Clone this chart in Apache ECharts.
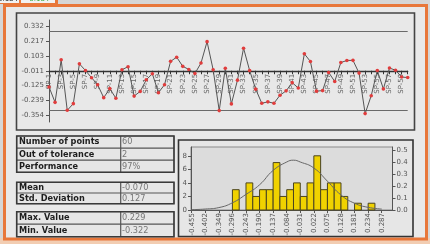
<!DOCTYPE html>
<html><head><meta charset="utf-8">
<script src="https://cdn.jsdelivr.net/npm/echarts@6/dist/echarts.min.js"></script>
<style>html,body{margin:0;padding:0;background:#d6d6d6;}#c{width:430px;height:244px;}</style>
</head><body><div id="c"></div>
<script>
// ---------- data ----------
const categories = ["SP-1","SP-2","SP-3","SP-4","SP-5","SP-6","SP-7","SP-8","SP-9","SP-10",
 "SP-11","SP-12","SP-13","SP-14","SP-15","SP-16","SP-17","SP-18","SP-19","SP-20",
 "SP-21","SP-22","SP-23","SP-24","SP-25","SP-26","SP-27","SP-28","SP-29","SP-30",
 "SP-31","SP-32","SP-33","SP-34","SP-35","SP-36","SP-37","SP-38","SP-39","SP-40",
 "SP-41","SP-42","SP-43","SP-44","SP-45","SP-46","SP-47","SP-48","SP-49","SP-50",
 "SP-51","SP-52","SP-53","SP-54","SP-55","SP-56","SP-57","SP-58","SP-59","SP-60"];
const values = [-0.135,-0.253,0.073,-0.314,-0.263,0.042,-0.009,-0.064,-0.118,-0.217,
 -0.148,-0.221,-0.003,0.020,-0.205,-0.169,-0.080,-0.034,-0.179,-0.118,
 0.061,0.093,0.023,-0.001,-0.032,0.048,0.212,-0.003,-0.316,0.008,
 -0.265,-0.083,0.162,-0.009,-0.152,-0.260,-0.249,-0.260,-0.198,-0.165,
 -0.102,-0.143,0.119,0.060,-0.167,-0.163,-0.024,-0.093,0.052,0.068,
 0.069,-0.029,-0.339,-0.202,-0.009,-0.150,0.010,-0.007,-0.059,-0.063];
const yTicks = [-0.354,-0.239,-0.125,-0.011,0.103,0.217,0.332];
const centerValue = -0.011;
const upperLimit = 0.294;
const lowerLimit = -0.312;

const statLabels1 = ["Number of points","Out of tolerance","Performance"];
const statValues1 = ["60","2","97%"];
const statLabels2 = ["Mean","Std. Deviation"];
const statValues2 = ["-0.070","0.127"];
const statLabels3 = ["Max. Value","Min. Value"];
const statValues3 = ["0.229","-0.322"];

const binStarts = [-0.296,-0.243,-0.2165,-0.190,-0.1635,-0.137,-0.1105,-0.084,-0.0575,-0.031,-0.0045,0.022,0.0485,0.075,0.1015,0.128,0.181,0.234];
const binCounts = [3,4,2,3,3,7,2,3,4,2,4,8,3,4,4,2,1,1];
const binWidth = 0.0265;
const histTicks = [-0.455,-0.402,-0.349,-0.296,-0.243,-0.190,-0.137,-0.084,-0.031,0.022,0.075,0.128,0.181,0.234,0.287];
const countTicks = [0,2,4,6,8];
const densityTicks = [0,0.1,0.2,0.3,0.4,0.5];
const curveX = [-0.455,-0.402,-0.349,-0.296,-0.243,-0.190,-0.137,-0.084,-0.058,-0.031,0.022,0.075,0.128,0.181,0.234,0.287];
const curveY = [0.003,0.008,0.020,0.060,0.130,0.210,0.330,0.400,0.415,0.400,0.350,0.240,0.125,0.056,0.022,0.008];

// ---------- chart ----------
const FONT = '"DejaVu Sans", Verdana, sans-serif';
const chart = echarts.init(document.getElementById('c'), null, {renderer:'canvas'});

function tableGraphics(labels, vals, top, rowH) {
  const els = [];
  const x0 = 16.7, x1 = 174, xd = 120.7;
  const h = rowH * labels.length;
  els.push({type:'rect', shape:{x:x0, y:top, width:x1-x0, height:h},
    style:{fill:'#e6e6e6', stroke:'#8a8a8a', lineWidth:1}, z:2});
  for (let i = 1; i < labels.length; i++) {
    els.push({type:'line', shape:{x1:x0, y1:top+i*rowH, x2:x1, y2:top+i*rowH},
      style:{stroke:'#555', lineWidth:1.2}, z:3});
  }
  els.push({type:'line', shape:{x1:xd, y1:top, x2:xd, y2:top+h}, style:{stroke:'#555', lineWidth:1.2}, z:3});
  els.push({type:'rect', shape:{x:x0, y:top, width:x1-x0, height:h},
    style:{fill:null, stroke:'#3a3a3a', lineWidth:1.6}, z:4});
  labels.forEach((t, i) => {
    els.push({type:'text', x:19, y:top+i*rowH+rowH/2+0.3, z:5,
      style:{text:t, font:'bold 8.2px ' + FONT, fill:'#1e1e1e', verticalAlign:'middle'}});
    els.push({type:'text', x:122, y:top+i*rowH+rowH/2+0.3, z:5,
      style:{text:vals[i], font:'8.2px ' + FONT, fill:'#777', verticalAlign:'middle'}});
  });
  return els;
}

const graphics = [
  {type:'rect', shape:{x:0, y:238, width:430, height:6}, style:{fill:'#f2cdb2'}, z:0},
  {type:'rect', shape:{x:4.5, y:5.5, width:422, height:233.5}, style:{fill:'#e9e9e9', stroke:'#e8773a', lineWidth:3}, z:1},
  {type:'rect', shape:{x:0, y:-2, width:58, height:6}, style:{fill:'#e8773a'}, z:6},
  {type:'rect', shape:{x:0, y:-3, width:19, height:6}, style:{fill:'#f2f2f2'}, z:7},
  {type:'text', x:18, y:-0.5, z:8, style:{text:'0.184', font:'7px ' + FONT, fill:'#222', align:'right', verticalAlign:'middle'}},
  {type:'rect', shape:{x:21, y:-3, width:34, height:6}, style:{fill:'#f2f2f2'}, z:7},
  {type:'text', x:38, y:-0.5, z:8, style:{text:'-0.184', font:'7px ' + FONT, fill:'#3aaa3a', align:'center', verticalAlign:'middle'}},
  {type:'rect', shape:{x:16.5, y:13, width:398, height:117}, style:{fill:'#e8e8e8', stroke:'#444', lineWidth:1.6}, z:2},
  {type:'rect', shape:{x:178.5, y:140, width:234.5, height:96.5}, style:{fill:'#e6e6e6', stroke:'#333', lineWidth:1.6}, z:2}
].concat(
  tableGraphics(statLabels1, statValues1, 136, 12.1),
  tableGraphics(statLabels2, statValues2, 182.3, 10.7),
  tableGraphics(statLabels3, statValues3, 211.7, 12.5)
);

const axisLabelStyle = {fontSize:7, color:'#555', fontFamily:FONT};

const option = {
  animation:false,
  backgroundColor:'transparent',
  graphic:{z:0, elements:graphics},
  grid:[
    {left:49, right:22.3, top:20, bottom:122, z:10},
    {left:191, right:37.5, top:147, bottom:34, show:true, backgroundColor:'#dcdcdc', borderColor:'#8a8a8a', borderWidth:1, z:10}
  ],
  xAxis:[
    {type:'category', gridIndex:0, data:categories, boundaryGap:false, z:20, offset:0,
     axisLine:{onZero:false, lineStyle:{color:'#333', width:1.4}},
     axisTick:{show:true, interval:0, length:3, lineStyle:{color:'#333'}},
     axisLabel:{interval:1, rotate:90, margin:3, ...axisLabelStyle, color:'#666'},
     splitLine:{show:false}},
    {type:'category', gridIndex:0, data:categories, boundaryGap:false, z:20, offset:0,
     axisLine:{show:false, onZero:false},
     axisTick:{show:true, inside:true, interval:0, length:3, lineStyle:{color:'#333'}},
     axisLabel:{show:false}, splitLine:{show:false}},
    {type:'value', gridIndex:1, min:-0.4577, max:0.3291, z:20,
     axisLine:{onZero:false, lineStyle:{color:'#555'}},
     axisTick:{customValues:histTicks, length:3, lineStyle:{color:'#555'}},
     axisLabel:{customValues:histTicks, rotate:90, margin:3, ...axisLabelStyle, formatter:v => v.toFixed(3)},
     splitLine:{show:false}}
  ],
  yAxis:[
    {type:'value', gridIndex:0, min:-0.4035, max:0.378, z:20,
     axisLine:{show:true, onZero:false, lineStyle:{color:'#555'}},
     axisTick:{show:true, customValues:yTicks, length:3, lineStyle:{color:'#555'}},
     axisLabel:{customValues:yTicks, margin:5, ...axisLabelStyle, formatter:v => v.toFixed(3)},
     splitLine:{show:false}},
    {type:'value', gridIndex:1, min:0, max:9.3, position:'left', z:20,
     axisLine:{show:true, onZero:false, lineStyle:{color:'#555'}},
     axisTick:{show:true, customValues:countTicks, length:3, lineStyle:{color:'#555'}},
     axisLabel:{customValues:countTicks, margin:4, ...axisLabelStyle},
     splitLine:{show:false}},
    {type:'value', gridIndex:1, min:0, max:0.525, position:'right', z:20,
     axisLine:{show:true, onZero:false, lineStyle:{color:'#555'}},
     axisTick:{show:true, customValues:densityTicks, length:3, lineStyle:{color:'#555'}},
     axisLabel:{customValues:densityTicks, margin:4, ...axisLabelStyle, formatter:v => v.toFixed(1)},
     splitLine:{show:false}}
  ],
  series:[
    {type:'line', xAxisIndex:0, yAxisIndex:0, data:values, z:22,
     lineStyle:{color:'#555', width:1}, symbol:'circle', symbolSize:3.6,
     itemStyle:{color:'#e03c3c'},
     markLine:{silent:true, symbol:'none', label:{show:false}, z:21,
       lineStyle:{color:'#6a6a6a', width:1, type:'solid'},
       emphasis:{disabled:true},
       data:[{yAxis:upperLimit},{yAxis:lowerLimit}]}},
    {type:'custom', xAxisIndex:2, yAxisIndex:1, z:21,
     data:binStarts.map((s,i) => [s, s+binWidth, binCounts[i]]),
     renderItem:(params, api) => {
       const p0 = api.coord([api.value(0), 0]);
       const p1 = api.coord([api.value(1), api.value(2)]);
       return {type:'rect', shape:{x:p0[0], y:p1[1], width:p1[0]-p0[0], height:p0[1]-p1[1]},
         style:{fill:'#f0d200', stroke:'#4a4420', lineWidth:1}};
     }},
    {type:'line', xAxisIndex:2, yAxisIndex:2, z:23,
     data:curveX.map((x,i) => [x, curveY[i]]), smooth:true, showSymbol:false,
     lineStyle:{color:'#666', width:1}}
  ]
};
chart.setOption(option);
// move the category axis onto the centre value, using the library's own y scale
const gridBottomY = chart.convertToPixel({yAxisIndex:0}, -0.4035);
const centerY = chart.convertToPixel({yAxisIndex:0}, centerValue);
const off = -(gridBottomY - centerY);
chart.setOption({xAxis:[{offset:off},{offset:off},{}]});
</script></body></html>
